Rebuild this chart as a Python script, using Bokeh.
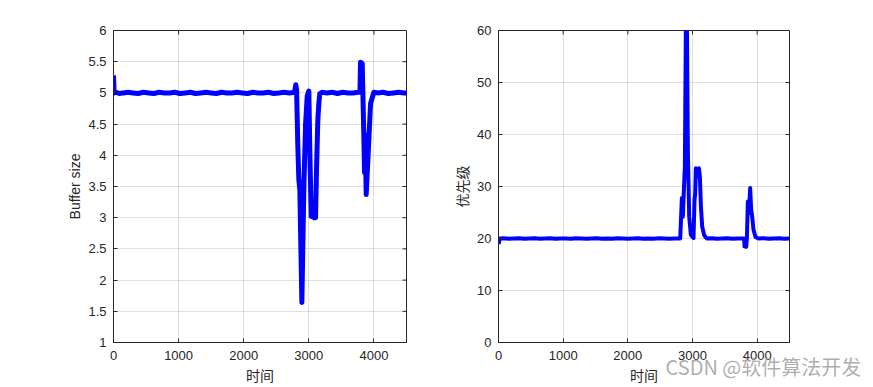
import math
from bokeh.plotting import figure
from bokeh.models import Range1d, FixedTicker, Label, GridBox, Column
from bokeh.embed import file_html
from bokeh.resources import INLINE

# ---------------- data ----------------
x_ticks = [0, 1000, 2000, 3000, 4000]
buf_ticks = [1, 1.5, 2, 2.5, 3, 3.5, 4, 4.5, 5, 5.5, 6]
buf_tick_labels = ["1", "1.5", "2", "2.5", "3", "3.5", "4", "4.5", "5", "5.5", "6"]
pri_ticks = [0, 10, 20, 30, 40, 50, 60]

t_buf = [0, 10, 40, 90, 150, 220, 300, 380, 460, 540, 620, 700, 780, 860, 940,
         1020, 1100, 1180, 1260, 1340, 1420, 1500, 1580, 1660, 1740, 1820, 1900,
         1980, 2060, 2140, 2220, 2300, 2380, 2460, 2540, 2620, 2700, 2780, 2800,
         2812, 2831, 2847, 2862, 2893, 2924, 2950, 2975, 3000, 3016, 3037, 3060,
         3078, 3103, 3118, 3138, 3155, 3169, 3200, 3280, 3360, 3440, 3520, 3600,
         3680, 3760, 3785, 3794, 3820, 3845, 3856, 3866, 3881, 3907, 3948, 3999,
         4060, 4140, 4220, 4300, 4380, 4460, 4500]
buffer_size = [5.28, 5.00, 5.01, 4.99, 5.00, 5.01, 5.00, 4.99, 5.01, 5.00, 4.99,
               5.01, 5.00, 5.00, 5.01, 4.99, 5.00, 5.01, 4.99, 5.00, 5.01, 5.00,
               4.99, 5.01, 5.00, 5.00, 5.01, 5.00, 4.99, 5.01, 5.00, 5.00, 5.01,
               4.99, 5.00, 5.01, 5.00, 5.01, 5.13, 5.05, 4.14, 3.60, 3.45, 1.64,
               3.50, 4.50, 4.95, 5.03, 4.03, 3.02, 3.05, 3.00, 3.00, 3.77, 4.56,
               4.85, 4.99, 5.01, 5.00, 5.01, 4.99, 5.01, 5.00, 5.00, 5.01, 5.01,
               5.49, 5.47, 4.30, 3.72, 4.33, 3.37, 3.93, 4.83, 5.01, 5.00, 5.01,
               4.99, 5.00, 5.01, 5.00, 5.00]

t_pri = [0, 8, 15, 80, 160, 240, 320, 400, 480, 560, 640, 720, 800, 880, 960,
         1040, 1120, 1200, 1280, 1360, 1440, 1520, 1600, 1680, 1760, 1840, 1920,
         2000, 2080, 2160, 2240, 2320, 2400, 2480, 2560, 2640, 2720, 2780, 2810,
         2836, 2851, 2867, 2882, 2898, 2913, 2929, 2949, 2975, 3006, 3016, 3031,
         3042, 3052, 3073, 3099, 3114, 3130, 3150, 3181, 3222, 3300, 3380, 3460,
         3540, 3620, 3700, 3780, 3799, 3804, 3830, 3841, 3856, 3872, 3892, 3907,
         3923, 3943, 3974, 4020, 4100, 4180, 4260, 4340, 4420, 4500]
priority = [19.0, 19.2, 20.0, 20.05, 19.95, 20.0, 20.05, 19.95, 20.0, 20.05,
            19.95, 20.0, 20.05, 19.95, 20.0, 20.0, 19.95, 20.05, 20.0, 19.95,
            20.0, 20.05, 19.95, 20.0, 19.95, 20.05, 20.0, 19.95, 20.0, 20.05,
            19.95, 20.0, 19.95, 20.05, 20.0, 19.95, 20.0, 20.0, 20.0, 27.8,
            24.2, 29.4, 33.8, 62.0, 62.0, 36.4, 24.2, 20.7, 20.2, 20.1, 27.4,
            28.7, 33.5, 31.9, 33.5, 31.9, 26.2, 22.3, 20.6, 20.0, 20.05, 19.95,
            20.0, 20.05, 19.95, 20.0, 20.0, 20.0, 18.5, 18.4, 20.0, 27.1, 24.9,
            29.7, 25.5, 24.2, 21.7, 20.3, 20.0, 20.05, 19.95, 20.0, 20.05,
            19.95, 20.0]

watermark = "CSDN @软件算法开发"

# ---------------- styling helpers ----------------
AX = "#262626"
LATIN = "Liberation Sans"
CJK = "Noto Sans CJK SC"
H = 387


def make_fig(width, y_range, yticks, ylabel, ylabel_font, mb_left, mb_right,
             label_overrides=None):
    p = figure(width=width, height=H, output_backend="svg",
               toolbar_location=None,
               x_range=Range1d(0, 4500), y_range=y_range,
               min_border_left=mb_left, min_border_right=mb_right,
               min_border_top=30, min_border_bottom=43)
    p.outline_line_color = AX
    p.outline_line_width = 1
    p.background_fill_color = "white"
    p.border_fill_color = "white"

    p.xaxis.ticker = FixedTicker(ticks=x_ticks)
    p.yaxis.ticker = FixedTicker(ticks=yticks)
    if label_overrides:
        p.yaxis.major_label_overrides = label_overrides
    for ax in (p.xaxis[0], p.yaxis[0]):
        ax.axis_line_color = AX
        ax.major_tick_line_color = AX
        ax.major_tick_in = 4
        ax.major_tick_out = 0
        ax.minor_tick_line_color = None
        ax.major_label_text_font = LATIN
        ax.major_label_text_font_size = "13px"
        ax.major_label_text_color = AX
        ax.axis_label_text_color = AX
        ax.axis_label_text_font_style = "normal"
        ax.axis_label_text_font_size = "14px"
    p.xaxis.major_label_standoff = 8
    p.yaxis.major_label_standoff = 7
    p.xaxis.axis_label = "时间"
    p.xaxis.axis_label_text_font = CJK
    p.xaxis.axis_label_standoff = 2
    p.yaxis.axis_label = ylabel
    p.yaxis.axis_label_text_font = ylabel_font
    p.yaxis.axis_label_standoff = 2

    p.grid.grid_line_color = AX
    p.grid.grid_line_alpha = 0.15

    # MATLAB-style box ticks on the top and right edges (inward only)
    y_top = y_range.end
    p.scatter(x_ticks, [y_top] * len(x_ticks), marker="dash", size=8,
              angle=math.pi / 2, line_color=AX, line_width=1)
    p.scatter([4500] * len(yticks), yticks, marker="dash", size=8,
              line_color=AX, line_width=1)
    return p


overrides = {t: lab for t, lab in zip(buf_ticks, buf_tick_labels)}
p1 = make_fig(448, Range1d(1, 6), buf_ticks, "Buffer size", LATIN, 113, 42,
              overrides)
p1.line(t_buf, buffer_size, line_color="#0000ff", line_width=5,
        line_join="round")

p2 = make_fig(425, Range1d(0, 60), pri_ticks, "优先级", CJK, 50, 84)
p2.line(t_pri, priority, line_color="#0000ff", line_width=4,
        line_join="round")

# transparent overlay carrying the watermark
p3 = figure(width=873, height=H, output_backend="svg", toolbar_location=None,
            x_axis_location=None, y_axis_location=None,
            x_range=Range1d(0, 873), y_range=Range1d(0, H),
            min_border_left=0, min_border_right=0, min_border_top=0,
            min_border_bottom=0)
p3.grid.visible = False
p3.outline_line_color = None
p3.background_fill_color = None
p3.border_fill_color = None
p3.add_layout(Label(x=665, y=7, x_units="screen", y_units="screen",
                    text=watermark, text_font=CJK, text_font_size="20px",
                    text_color="#a0a0a0", text_alpha=0.85,
                    text_baseline="bottom"))
overlay = Column(children=[p3])

layout = GridBox(children=[(p1, 0, 0), (p2, 0, 1), (overlay, 0, 0, 1, 2)])
open("out.html", "w").write(file_html(layout, INLINE))
